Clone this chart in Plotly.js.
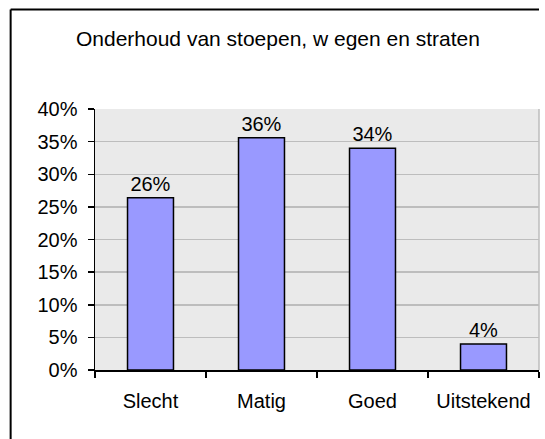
<!DOCTYPE html>
<html>
<head>
<meta charset="utf-8">
<script src="https://cdn.plot.ly/plotly-3.0.1.min.js"></script>
<style>
  html, body { margin: 0; padding: 0; background: #ffffff; overflow: hidden; }
  #chart { width: 545px; height: 439px; }
</style>
</head>
<body>
<div id="chart"></div>
<script>
var categories = ["Slecht", "Matig", "Goed", "Uitstekend"];
var values = [0.264, 0.356, 0.340, 0.040];
var yTickValues = [0, 0.05, 0.10, 0.15, 0.20, 0.25, 0.30, 0.35, 0.40];
var yTickLabels = ["0%", "5%", "10%", "15%", "20%", "25%", "30%", "35%", "40%"];
var chartTitle = "Onderhoud van stoepen, w egen en straten";

var FONT = "Arial, 'Liberation Sans', sans-serif";

var trace = {
  type: "bar",
  x: categories,
  y: values,
  marker: { color: "#9999ff", line: { color: "#000000", width: 1.5 } },
  text: values.map(function (v) { return Math.round(v * 100) + "%"; }),
  textposition: "outside",
  textfont: { family: FONT, size: 20, color: "#000000" },
  cliponaxis: false,
  hoverinfo: "skip"
};

var layout = {
  width: 545,
  height: 439,
  margin: { l: 95, r: 6, t: 109, b: 69 },
  paper_bgcolor: "#ffffff",
  plot_bgcolor: "#eaeaea",
  showlegend: false,
  bargap: 0.586,
  title: {
    text: chartTitle,
    font: { family: FONT, size: 21, color: "#000000" },
    x: 0.51, xanchor: "center",
    y: 0.912, yanchor: "middle"
  },
  xaxis: {
    type: "category",
    showgrid: false,
    showline: true, linecolor: "#000000", linewidth: 1.5,
    ticks: "outside", tickson: "boundaries", ticklen: 6, tickcolor: "#000000", tickwidth: 1.5,
    ticklabelstandoff: 12,
    tickfont: { family: FONT, size: 20, color: "#000000" },
    zeroline: false,
    fixedrange: true
  },
  yaxis: {
    range: [0, 0.4],
    tickvals: yTickValues,
    ticktext: yTickLabels,
    showgrid: true, gridcolor: "#bdbdbd", gridwidth: 1.5,
    showline: true, linecolor: "#000000", linewidth: 1.5,
    ticks: "outside", ticklen: 6, tickcolor: "#000000", tickwidth: 1.5,
    ticklabelstandoff: 6,
    tickfont: { family: FONT, size: 20, color: "#000000" },
    zeroline: false,
    fixedrange: true
  },
  shapes: [
    { type: "line", xref: "paper", yref: "paper", x0: 1, x1: 1, y0: 0, y1: 1,
      line: { color: "#bdbdbd", width: 1.5 }, layer: "below" },
    { type: "line", xref: "paper", yref: "paper", x0: -0.19, x1: -0.19, y0: -0.3, y1: 1.381,
      line: { color: "#000000", width: 2 }, layer: "above" },
    { type: "line", xref: "paper", yref: "paper", x0: -0.19, x1: 1.0, y0: 1.381, y1: 1.381,
      line: { color: "#000000", width: 2 }, layer: "above" }
  ]
};

Plotly.newPlot("chart", [trace], layout, { staticPlot: true, displayModeBar: false });
</script>
</body>
</html>
